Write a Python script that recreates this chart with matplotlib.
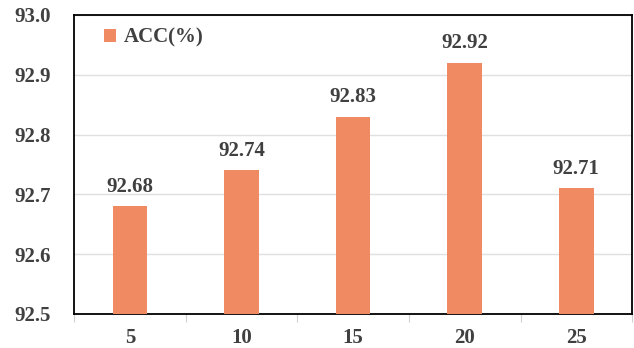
import numpy as np
import matplotlib.pyplot as plt

categories = ["5", "10", "15", "20", "25"]
acc = [92.68, 92.74, 92.83, 92.92, 92.71]
yticks = [92.5, 92.6, 92.7, 92.8, 92.9, 93.0]

plt.rcParams['font.family'] = ['Liberation Serif', 'DejaVu Serif']
plt.rcParams['font.weight'] = 'bold'
text_color = '#404040'
bar_color = '#F08A63'

fig = plt.figure(figsize=(6.34, 3.48), dpi=100)
ax = fig.add_axes([0.117, 0.098, 0.880, 0.859])

x = np.arange(len(categories))
ax.bar(x, acc, width=0.31, color=bar_color, label='ACC(%)', zorder=3)
for xi, v in zip(x, acc):
    ax.annotate(f"{v:.2f}", (xi, v), xytext=(0, 7), textcoords='offset points',
                ha='center', va='bottom', fontsize=15, fontweight='bold',
                color=text_color)

ax.set_xlim(-0.5, len(categories) - 0.5)
ax.set_ylim(92.5, 93.0)
ax.set_yticks(yticks)
ax.set_yticklabels([f"{t:.1f}" for t in yticks])
ax.set_xticks(x)
ax.set_xticklabels(categories)
ax.set_xticks(np.arange(-0.5, len(categories)), minor=True)
ax.tick_params(axis='x', which='major', length=0, pad=10, labelsize=15, labelcolor=text_color)
ax.tick_params(axis='x', which='minor', length=6, color='#d0d0d0', width=0.8)
ax.tick_params(axis='y', length=0, pad=17, labelsize=15, labelcolor=text_color)
for lbl in ax.get_xticklabels() + ax.get_yticklabels():
    lbl.set_fontweight('bold')

ax.grid(axis='y', color='#e0e0e0', linewidth=1, zorder=0)
for s in ax.spines.values():
    s.set_color('black')
    s.set_linewidth(1.3)

leg = ax.legend(loc='upper left', bbox_to_anchor=(0.02, 1.02), frameon=False,
                prop={'size': 15, 'weight': 'bold'}, handlelength=0.55,
                handleheight=0.55, handletextpad=0.4)
for t in leg.get_texts():
    t.set_color(text_color)

fig.savefig("out.png", dpi=100)
